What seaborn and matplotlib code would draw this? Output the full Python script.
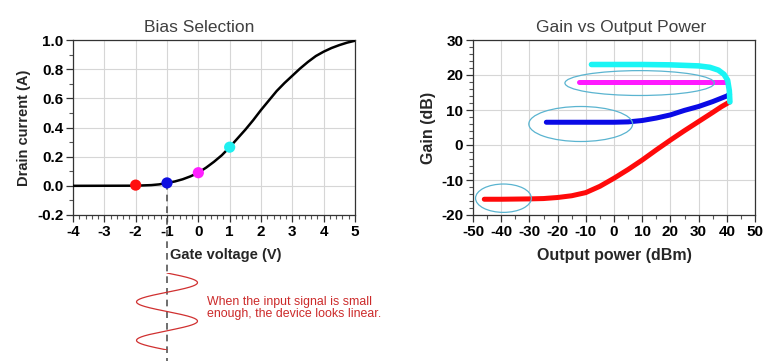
import numpy as np
import pandas as pd
import seaborn as sns
import matplotlib
matplotlib.use("Agg")
import matplotlib.pyplot as plt
from matplotlib.patches import Ellipse
from matplotlib.ticker import MultipleLocator

# Bias selection curve
gate_v = [-4, -2, -1.5, -1.25, -1, -0.75, -0.5, -0.25, 0, 0.25, 0.5, 0.75, 1, 1.25, 1.5,
          1.75, 2, 2.25, 2.5, 2.75, 3, 3.25, 3.5, 3.75, 4, 4.25, 4.5, 4.75, 5]
drain_i = [0, 0.001, 0.005, 0.01, 0.02, 0.03, 0.045, 0.065, 0.09, 0.125, 0.165, 0.21, 0.265,
           0.325, 0.385, 0.45, 0.52, 0.585, 0.65, 0.705, 0.755, 0.805, 0.85, 0.89, 0.92,
           0.945, 0.965, 0.982, 0.995]

# bias points
bias_v = [-2, -1, 0, 1]
bias_i = [0.005, 0.02, 0.09, 0.265]
bias_colors = ["#ff1010", "#1010e0", "#ff20ff", "#20f0f0"]

# Gain vs output power
red_p = [-46, -40, -30, -25, -20, -15, -10, -5, 0, 5, 10, 15, 20, 25, 30, 35, 38, 41]
red_g = [-15.5, -15.5, -15.4, -15.3, -15.0, -14.5, -13.6, -11.8, -9.5, -7.0, -4.3, -1.4,
         1.4, 4.1, 6.7, 9.3, 10.9, 12.3]
blue_p = [-24, -10, 0, 5, 10, 15, 20, 25, 30, 35, 40, 41]
blue_g = [6.5, 6.5, 6.5, 6.6, 7.0, 7.7, 8.6, 9.9, 11.0, 12.4, 14.0, 14.5]
mag_p = [-12.5, 40]
mag_g = [17.9, 17.9]
cyan_p = [-8, 0, 10, 20, 30, 34, 37, 39, 40.3, 40.9, 41.1]
cyan_g = [23, 23, 23, 22.9, 22.6, 22.2, 21.4, 20.2, 18.5, 15.5, 12.3]

title_color = "#404040"

sns.set_theme(style="white")
plt.rcParams['font.family'] = ['Liberation Sans', 'DejaVu Sans']
plt.rcParams['axes.unicode_minus'] = False

fig = plt.figure(figsize=(7.65, 3.61), dpi=100)
ax1 = fig.add_axes([73 / 765, 1 - 215 / 361, 282 / 765, 175 / 361])
ax2 = fig.add_axes([473 / 765, 1 - 215 / 361, 282 / 765, 175 / 361])

# ---- left chart
df_bias = pd.DataFrame({"v": gate_v, "i": drain_i})
sns.lineplot(data=df_bias, x="v", y="i", ax=ax1, color="black", linewidth=1.8, zorder=3)
ax1.plot([-1, -1], [0.02, -1.25], color="#555555", linestyle=(0, (4, 3)), linewidth=1.2,
         clip_on=False, zorder=2)
df_pts = pd.DataFrame({"v": bias_v, "i": bias_i, "c": [str(k) for k in range(4)]})
sns.scatterplot(data=df_pts, x="v", y="i", hue="c", palette=bias_colors, s=65,
                edgecolor="none", legend=False, ax=ax1, zorder=4)
ax1.set_xlim(-4, 5)
ax1.set_ylim(-0.2, 1.0)
ax1.xaxis.set_major_locator(MultipleLocator(1))
ax1.xaxis.set_minor_locator(MultipleLocator(0.2))
ax1.yaxis.set_minor_locator(MultipleLocator(0.1))
ax1.set_yticks(np.arange(-0.2, 1.01, 0.2))
ax1.set_yticklabels([f"{v:.1f}" for v in np.arange(-0.2, 1.01, 0.2)])
ax1.set_xlabel("Gate voltage (V)", fontsize=10.5, fontweight="bold", labelpad=7, x=0.54)
ax1.set_ylabel("Drain current (A)", fontsize=10.5, fontweight="bold", labelpad=4)
ax1.set_title("Bias Selection", fontsize=12.5, color=title_color, pad=6, x=0.447)

# ---- right chart
curves = [(red_p, red_g, "#ff0a0a", 3.6),
          (blue_p, blue_g, "#0a0ae6", 3.6),
          (mag_p, mag_g, "#ff1aff", 3.6),
          (cyan_p, cyan_g, "#1af5f5", 4.0)]
for p, g, c, lw in curves:
    sns.lineplot(x=p, y=g, ax=ax2, color=c, linewidth=lw, sort=False, zorder=3)

for (cx, cy, w, h) in [(9.1, 17.7, 53, 7.1), (-11.8, 6.0, 36.8, 10.0), (-39.2, -15.2, 19.8, 8.1)]:
    ax2.add_patch(Ellipse((cx, cy), w, h, fill=False, edgecolor="#5ab4d0", linewidth=0.9, zorder=5))

ax2.set_xlim(-50, 50)
ax2.set_ylim(-20, 30)
ax2.xaxis.set_major_locator(MultipleLocator(10))
ax2.xaxis.set_minor_locator(MultipleLocator(5))
ax2.yaxis.set_major_locator(MultipleLocator(10))
ax2.yaxis.set_minor_locator(MultipleLocator(2))
ax2.set_xlabel("Output power (dBm)", fontsize=11.5, fontweight="bold", labelpad=7)
ax2.set_ylabel("Gain (dB)", fontsize=11.5, fontweight="bold", labelpad=4)
ax2.set_title("Gain vs Output Power", fontsize=12.5, color=title_color, pad=6, x=0.525)

for ax in (ax1, ax2):
    ax.grid(True, which="major", color="#d6d6d6", linewidth=0.8)
    ax.set_axisbelow(True)
    for s in ax.spines.values():
        s.set_color("#333333")
        s.set_linewidth(0.9)
    ax.tick_params(which="major", length=5, width=0.9, color="#333333", direction="out",
                   labelsize=11, pad=2)
    ax.tick_params(which="minor", length=3, width=0.8, color="#555555", direction="out")
    ax.tick_params(axis="both", which="both", bottom=True, left=True)
    for lab in ax.get_xticklabels() + ax.get_yticklabels():
        lab.set_fontweight("bold")
        lab.set_color("black")

# ---- small input signal sketch
ax_sig = fig.add_axes([135 / 765, 1 - 350 / 361, 64 / 765, 77 / 361])
t = np.linspace(0, 2, 300)
ax_sig.plot(np.sin(2 * np.pi * t), t, color="#d03030", linewidth=0.9)
ax_sig.set_xlim(-1.05, 1.05)
ax_sig.set_ylim(2.0, 0.0)
ax_sig.axis("off")
ax_sig.patch.set_alpha(0)

fig.text(207 / 765, 1 - 308 / 361,
         "When the input signal is small\nenough, the device looks linear.",
         color="#cc2a2a", fontsize=8.9, va="center", ha="left", linespacing=1.0)

fig.savefig("out.png", dpi=100)
